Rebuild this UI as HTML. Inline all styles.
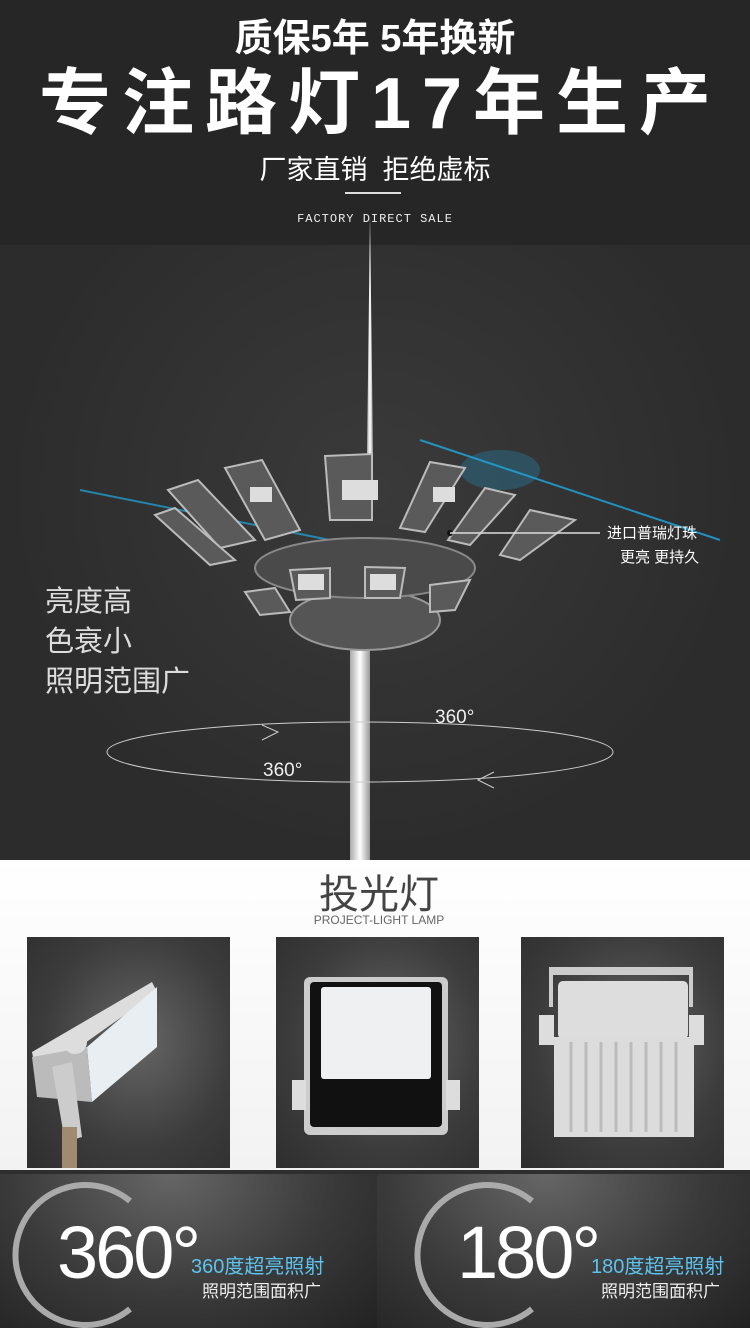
<!DOCTYPE html>
<html><head><meta charset="utf-8"><style>
*{margin:0;padding:0;box-sizing:border-box}
body{width:750px;height:1328px;position:relative;overflow:hidden;background:#2e2e2e;font-family:"Liberation Sans","Noto Sans CJK SC",sans-serif}
.a{position:absolute;white-space:nowrap}
.ph{background:radial-gradient(ellipse at 55% 45%,#666,#3c3c3c 60%,#2e2e2e)}
</style></head><body>
<div class="a" style="left:0;top:0;width:750px;height:245px;background:#262626"></div>
<div class="a" style="left:0;top:245px;width:750px;height:615px;background:radial-gradient(ellipse at 50% 40%,#3a3a3a,#2c2c2c 70%)"></div>
<div class="a" style="left:0;top:14px;width:750px;text-align:center;color:#fff;font-size:38px;font-weight:bold;line-height:50px">质保5年 5年换新</div>
<div class="a" style="left:0;top:64px;width:750px;text-align:center;color:#fff;font-size:72px;font-weight:bold;letter-spacing:11px;line-height:80px;padding-left:11px">专注路灯17年生产</div>
<div class="a" style="left:0;top:148px;width:750px;text-align:center;color:#fff;font-size:27px">厂家直销&nbsp; 拒绝虚标</div>
<div class="a" style="left:345px;top:192px;width:56px;height:2px;background:#ddd"></div>
<div class="a" style="left:0;top:212px;width:750px;text-align:center;color:#eee;font-size:12px;font-family:'Liberation Mono',monospace;letter-spacing:1px">FACTORY DIRECT SALE</div>

<svg class="a" style="left:0;top:200px" width="750" height="660" viewBox="0 200 750 660">
<defs><linearGradient id="p" x1="0" x2="1"><stop offset="0" stop-color="#aaa"/><stop offset=".5" stop-color="#fff"/><stop offset="1" stop-color="#999"/></linearGradient></defs>
<line x1="80" y1="490" x2="330" y2="540" stroke="#1fa8e0" stroke-width="2" opacity=".7"/>
<line x1="420" y1="440" x2="720" y2="540" stroke="#1fa8e0" stroke-width="2" opacity=".8"/>
<ellipse cx="500" cy="470" rx="40" ry="20" fill="#1fa8e0" opacity=".25"/>
<polygon points="367,455 370,215 373,455" fill="url(#p)"/>
<rect x="350" y="630" width="20" height="230" fill="url(#p)"/>
<ellipse cx="365" cy="620" rx="75" ry="30" fill="#555" stroke="#999" stroke-width="2"/>
<ellipse cx="365" cy="568" rx="110" ry="30" fill="#4a4a4a" stroke="#888" stroke-width="2"/>
<g fill="#5a5a5a" stroke="#bbb" stroke-width="2">
<polygon points="325,456 372,454 372,520 330,520"/>
<polygon points="225,468 262,460 300,530 265,540"/>
<polygon points="168,490 198,480 255,540 220,548"/>
<polygon points="155,515 175,508 235,560 210,565"/>
<polygon points="430,462 465,468 425,532 400,528"/>
<polygon points="485,488 515,495 470,545 448,540"/>
<polygon points="530,510 575,520 520,560 500,555"/>
<polygon points="290,570 330,568 330,598 296,600"/>
<polygon points="365,567 405,568 400,598 365,598"/>
<polygon points="430,585 470,580 455,610 430,612"/>
<polygon points="245,592 275,588 290,612 260,615"/>
</g>
<g fill="#ddd"><rect x="342" y="480" width="36" height="20"/><rect x="250" y="487" width="22" height="15"/><rect x="433" y="487" width="22" height="15"/><rect x="298" y="574" width="26" height="16"/><rect x="370" y="574" width="26" height="16"/></g>
<circle cx="450" cy="533" r="3" fill="#111"/>
<line x1="450" y1="533" x2="600" y2="533" stroke="#ddd" stroke-width="1.5"/>
<ellipse cx="360" cy="752" rx="253" ry="30" fill="none" stroke="#ccc" stroke-width="1"/>
<polyline points="262,725 278,732 262,740" fill="none" stroke="#ccc"/>
<polyline points="494,772 478,780 494,788" fill="none" stroke="#ccc"/>
</svg>
<div class="a" style="left:607px;top:522px;color:#fff;font-size:15px">进口普瑞灯珠</div>
<div class="a" style="left:620px;top:546px;color:#fff;font-size:15px">更亮 更持久</div>
<div class="a" style="left:45px;top:582px;color:#ddd;font-size:29px;line-height:40px">亮度高<br>色衰小<br>照明范围广</div>
<div class="a" style="left:435px;top:707px;color:#eee;font-size:19px">360°</div>
<div class="a" style="left:263px;top:760px;color:#eee;font-size:19px">360°</div>

<div class="a" style="left:0;top:860px;width:750px;height:310px;background:linear-gradient(#fff,#f2f2f2)"></div>
<div class="a" style="left:0;top:862px;width:750px;text-align:center;color:#444;font-size:40px;padding-left:8px">投光灯</div>
<div class="a" style="left:0;top:913px;width:750px;text-align:center;color:#666;font-size:12px;padding-left:8px">PROJECT-LIGHT LAMP</div>

<div class="a ph" style="left:27px;top:937px;width:203px;height:231px"></div>
<svg class="a" style="left:27px;top:937px" width="203" height="231"><polygon points="5,115 125,45 130,55 10,140" fill="#ddd"/><polygon points="60,110 130,50 130,110 65,165" fill="#e8eef2"/><polygon points="5,120 60,110 65,165 10,160" fill="#bbb"/><polygon points="25,130 45,125 55,200 38,205" fill="#ccc"/><circle cx="48" cy="105" r="12" fill="#ddd"/><rect x="35" y="190" width="15" height="41" fill="#a08a70"/></svg>
<div class="a ph" style="left:276px;top:937px;width:203px;height:231px"></div>
<svg class="a" style="left:276px;top:937px" width="203" height="231"><rect x="28" y="40" width="144" height="158" rx="6" fill="#ccc"/><rect x="34" y="45" width="132" height="145" rx="4" fill="#111"/><rect x="45" y="50" width="110" height="92" rx="3" fill="#eef0f2"/><rect x="16" y="143" width="14" height="30" fill="#ddd"/><rect x="170" y="143" width="14" height="30" fill="#ddd"/></svg>
<div class="a ph" style="left:521px;top:937px;width:203px;height:231px"></div>
<svg class="a" style="left:521px;top:937px" width="203" height="231"><rect x="28" y="30" width="144" height="8" fill="#ccc"/><rect x="28" y="30" width="4" height="40" fill="#ccc"/><rect x="168" y="30" width="4" height="40" fill="#ccc"/><rect x="37" y="44" width="130" height="58" rx="5" fill="#ddd"/><rect x="18" y="78" width="15" height="30" fill="#ddd"/><rect x="168" y="78" width="15" height="30" fill="#ddd"/><rect x="33" y="100" width="140" height="100" fill="#dcdcdc"/><g stroke="#bbb" stroke-width="3"><line x1="50" y1="105" x2="50" y2="195"/><line x1="65" y1="105" x2="65" y2="195"/><line x1="80" y1="105" x2="80" y2="195"/><line x1="95" y1="105" x2="95" y2="195"/><line x1="110" y1="105" x2="110" y2="195"/><line x1="125" y1="105" x2="125" y2="195"/><line x1="140" y1="105" x2="140" y2="195"/><line x1="155" y1="105" x2="155" y2="195"/></g></svg>

<div class="a" style="left:0;top:1174px;width:377px;height:154px;background:radial-gradient(ellipse at 45% 0%,#666,#3a3a3a 55%,#222)"></div>
<div class="a" style="left:377px;top:1174px;width:373px;height:154px;background:radial-gradient(ellipse at 45% 0%,#666,#3a3a3a 55%,#222)"></div>
<svg class="a" style="left:0;top:1174px" width="750" height="154"><path d="M130,27 A70,70 0 1 0 130,135" fill="none" stroke="#aaa" stroke-width="6"/><path d="M532,27 A70,70 0 1 0 532,135" fill="none" stroke="#aaa" stroke-width="6"/></svg>
<div class="a" style="left:57px;top:1213px;color:#fff;font-size:74px;line-height:80px;letter-spacing:-3px">360°</div>
<div class="a" style="left:191px;top:1250px;color:#5cc3ef;font-size:20px">360度超亮照射</div>
<div class="a" style="left:202px;top:1277px;color:#eee;font-size:17px">照明范围面积广</div>
<div class="a" style="left:457px;top:1213px;color:#fff;font-size:74px;line-height:80px;letter-spacing:-3px">180°</div>
<div class="a" style="left:591px;top:1250px;color:#5cc3ef;font-size:20px">180度超亮照射</div>
<div class="a" style="left:601px;top:1277px;color:#eee;font-size:17px">照明范围面积广</div>
</body></html>
